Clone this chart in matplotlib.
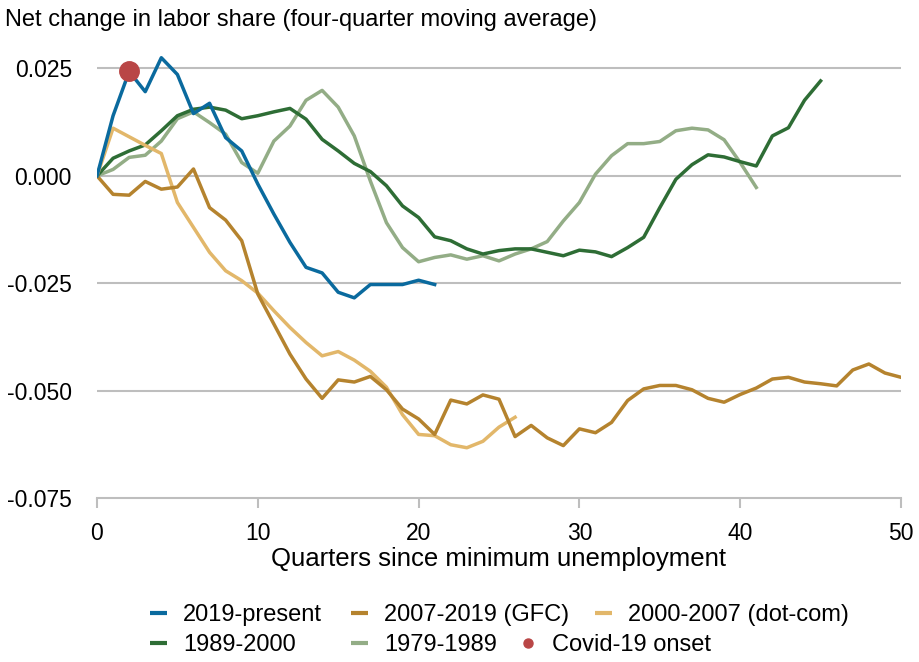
import matplotlib
matplotlib.use("Agg")
import matplotlib.pyplot as plt
from matplotlib.lines import Line2D

plt.rcParams['font.family'] = ['Liberation Sans', 'DejaVu Sans']

s2019 = [0.0, 0.0140, 0.0243, 0.0196, 0.0275, 0.0236, 0.0145, 0.0169, 0.0089, 0.0058,
         -0.0019, -0.0089, -0.0155, -0.0213, -0.0226, -0.0271, -0.0284, -0.0253, -0.0253,
         -0.0253, -0.0243, -0.0253]
s2007 = [0.0, -0.0043, -0.0045, -0.0013, -0.0031, -0.0026, 0.0016, -0.0074, -0.0103, -0.0151,
         -0.0275, -0.0345, -0.0415, -0.0473, -0.0518, -0.0475, -0.0480, -0.0467, -0.0498,
         -0.0543, -0.0566, -0.0602, -0.0522, -0.0531, -0.0510, -0.0520, -0.0607, -0.0581,
         -0.0610, -0.0628, -0.0589, -0.0598, -0.0574, -0.0523, -0.0496, -0.0488, -0.0488,
         -0.0498, -0.0518, -0.0527, -0.0509, -0.0494, -0.0473, -0.0469, -0.0480, -0.0484,
         -0.0489, -0.0452, -0.0438, -0.0459, -0.0469]
s2000 = [0.0, 0.0111, 0.0091, 0.0071, 0.0052, -0.0062, -0.0120, -0.0178, -0.0221, -0.0244,
         -0.0273, -0.0314, -0.0353, -0.0388, -0.0419, -0.0409, -0.0429, -0.0455, -0.0492,
         -0.0556, -0.0602, -0.0605, -0.0626, -0.0633, -0.0618, -0.0585, -0.0562]
s1989 = [0.0, 0.0041, 0.0058, 0.0072, 0.0105, 0.0140, 0.0155, 0.0160, 0.0153, 0.0133,
         0.0140, 0.0149, 0.0157, 0.0132, 0.0085, 0.0058, 0.0029, 0.0010, -0.0023, -0.0070,
         -0.0097, -0.0142, -0.0151, -0.0170, -0.0182, -0.0174, -0.0170, -0.0170, -0.0178,
         -0.0186, -0.0173, -0.0177, -0.0188, -0.0167, -0.0143, -0.0074, -0.0008, 0.0026,
         0.0049, 0.0044, 0.0033, 0.0023, 0.0093, 0.0112, 0.0176, 0.0221]
s1979 = [0.0, 0.0015, 0.0043, 0.0048, 0.0081, 0.0133, 0.0149, 0.0124, 0.0097, 0.0031,
         0.0006, 0.0081, 0.0116, 0.0176, 0.0199, 0.0160, 0.0093, -0.0012, -0.0109, -0.0167,
         -0.0200, -0.0190, -0.0184, -0.0194, -0.0186, -0.0198, -0.0182, -0.0170, -0.0153,
         -0.0105, -0.0062, 0.0004, 0.0047, 0.0075, 0.0075, 0.0080, 0.0105, 0.0111, 0.0107,
         0.0084, 0.0031, -0.0027]
covid_x = [2]
covid_y = [0.0243]

labels = ['2019-present', '2007-2019 (GFC)', '2000-2007 (dot-com)', '1989-2000', '1979-1989',
          'Covid-19 onset']
colors = {'2019': '#0A6A9E', '2007': '#B5832E', '2000': '#E2B76A', '1989': '#2E6D35',
          '1979': '#93AD86', 'covid': '#B94646'}
yticks = [0.025, 0.0, -0.025, -0.05, -0.075]
ytick_labels = ['0.025', '0.000', '-0.025', '-0.050', '-0.075']
xticks = [0, 10, 20, 30, 40, 50]

fig = plt.figure(figsize=(9.2, 6.62), dpi=100)
ax = fig.add_axes([97/920, 1-498/662, 804/920, (498-47)/662])

lw = 2.5
l1979, = ax.plot(range(len(s1979)), s1979, color=colors['1979'], lw=lw, label=labels[4], zorder=3)
l1989, = ax.plot(range(len(s1989)), s1989, color=colors['1989'], lw=lw, label=labels[3], zorder=4)
l2000, = ax.plot(range(len(s2000)), s2000, color=colors['2000'], lw=lw, label=labels[2], zorder=5)
l2007, = ax.plot(range(len(s2007)), s2007, color=colors['2007'], lw=lw, label=labels[1], zorder=6)
l2019, = ax.plot(range(len(s2019)), s2019, color=colors['2019'], lw=lw, label=labels[0], zorder=7)
pc, = ax.plot(covid_x, covid_y, 'o', color=colors['covid'], ms=14, label=labels[5], zorder=8,
              linestyle='none')

ax.set_xlim(0, 50)
ax.set_ylim(-0.075, 0.03)
for yv in yticks[:-1]:
    ax.axhline(yv, color='#BEBEBE', lw=1.5, zorder=1)
ax.set_yticks(yticks)
ax.set_yticklabels(ytick_labels)
ax.set_xticks(xticks)
for sp in ['top', 'right', 'left']:
    ax.spines[sp].set_visible(False)
ax.spines['bottom'].set_color('#BEBEBE')
ax.spines['bottom'].set_linewidth(1.5)
ax.tick_params(axis='y', length=0, pad=18, labelsize=16.5)
ax.tick_params(axis='x', length=7, width=1.5, color='#BEBEBE', pad=10, labelsize=16.5)
ax.set_xlabel('Quarters since minimum unemployment', fontsize=18.5, labelpad=2)
fig.text(5/920, 1-20/662, 'Net change in labor share (four-quarter moving average)',
         fontsize=17, va='center', ha='left')

# legend entries placed at their positions
entries = [(l2019, 150, 615), (l2007, 351, 615), (l2000, 595, 615),
           (l1989, 150, 645), (l1979, 351, 645), (pc, 519, 645)]
for h, xp, yp in entries:
    if h is pc:
        hh = Line2D([], [], marker='o', color=colors['covid'], ms=6.5, linestyle='none')
    else:
        hh = Line2D([], [], color=h.get_color(), lw=3, solid_capstyle='butt')
    leg = fig.legend([hh], [h.get_label()], loc='center left',
                     bbox_to_anchor=(xp/920, 1-yp/662), frameon=False, fontsize=17,
                     handlelength=0.72, handletextpad=0.68, borderpad=0, borderaxespad=0)

fig.savefig('out.png', dpi=100)
